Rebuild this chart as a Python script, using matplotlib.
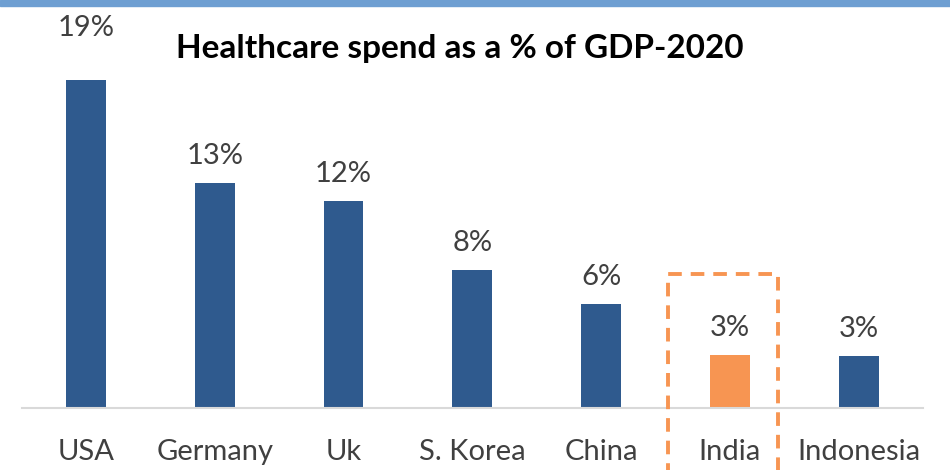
import matplotlib.pyplot as plt
from matplotlib.patches import Rectangle

paises = ['USA', 'Germany', 'Uk', 'S. Korea', 'China', 'India', 'Indonesia']
gasto = [19.0, 13.0, 12.0, 8.0, 6.0, 3.05, 3.0]
etiquetas = ['19%', '13%', '12%', '8%', '6%', '3%', '3%']
destacado = 'India'

azul = '#2F5A8E'
naranja = '#F79552'
gris_texto = '#404040'

plt.rcParams['font.family'] = ['Lato', 'DejaVu Sans']

fig = plt.figure(figsize=(9.5, 4.7), dpi=100)
ax = fig.add_axes([21.5 / 950, 62 / 470, 901.5 / 950, 408 / 470])

colores = [naranja if p == destacado else azul for p in paises]
x = list(range(len(paises)))
ax.bar(x, gasto, width=0.31, color=colores, zorder=2)

# la etiqueta de USA esta mas arriba en el original
desplazamientos = [28, 10, 10, 10, 10, 10, 10]
for xi, v, txt, d in zip(x, gasto, etiquetas, desplazamientos):
    ax.annotate(txt, (xi, v), xytext=(0, d), textcoords='offset points',
                ha='center', va='bottom', fontsize=21, color=gris_texto)

ax.set_xlim(-0.5, 6.5)
ax.set_ylim(0, 23.6)
ax.set_xticks(x)
ax.set_xticklabels(paises, fontsize=21, color=gris_texto)
ax.tick_params(axis='x', length=0, pad=22)
ax.set_yticks([])
for lado in ['top', 'right', 'left']:
    ax.spines[lado].set_visible(False)
ax.spines['bottom'].set_color('#D9D9D9')
ax.spines['bottom'].set_linewidth(1.5)

# recuadro punteado alrededor de India
i = paises.index(destacado)
rect = Rectangle((i - 0.48, -6), 0.854, 13.75, fill=False, edgecolor=naranja,
                 linewidth=2.8, linestyle=(0, (3.5, 2.3)), clip_on=False, zorder=3)
ax.add_patch(rect)

ax.text(0.486, 0.882, 'Healthcare spend as a % of GDP-2020', transform=ax.transAxes,
        ha='center', va='center', fontsize=24, fontweight='bold', color='black')

# franja azul superior
fig.patches.append(Rectangle((0, 1 - 6 / 470), 1, 6 / 470, transform=fig.transFigure,
                             color='#6E9FD2', zorder=5))

fig.savefig('out.png', dpi=100)
